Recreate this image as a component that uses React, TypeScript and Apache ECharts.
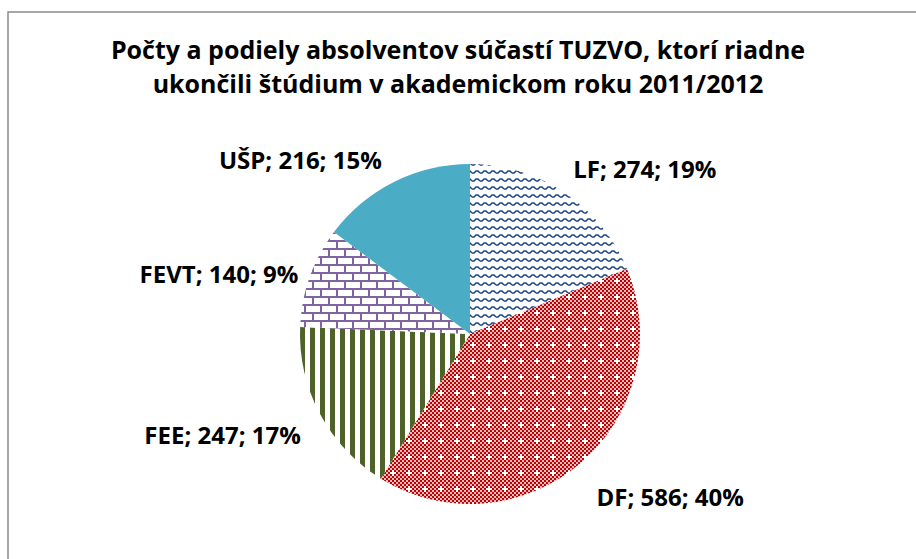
import React, { useEffect, useRef } from "react";
import * as echarts from "echarts";

const titleLines = [
  "Počty a podiely absolventov súčastí TUZVO, ktorí riadne",
  "ukončili štúdium v akademickom roku 2011/2012",
];
const categories = ["LF", "DF", "FEE", "FEVT", "UŠP"];
const values = [274, 586, 247, 140, 216];

const FONT = "'Open Sans', 'Noto Sans', sans-serif";
// label nudges (style only) per slice, in slice order
const labelNudges = [
  [-10, -3],
  [-5, 14],
  [8, 9],
  [17, 5],
  [4, 0],
];

function makeTile(size: number, draw: (c: CanvasRenderingContext2D) => void) {
  const cv = document.createElement("canvas");
  cv.width = size;
  cv.height = size;
  const ctx = cv.getContext("2d")!;
  ctx.fillStyle = "#ffffff";
  ctx.fillRect(0, 0, size, size);
  draw(ctx);
  return { image: cv.toDataURL(), repeat: "repeat", imageWidth: size, imageHeight: size } as any;
}

function buildPatterns() {
  const waves = makeTile(8, (c) => {
    c.strokeStyle = "#1A4585";
    c.lineWidth = 1.5;
    c.beginPath();
    c.moveTo(0, 5);
    c.lineTo(2, 5);
    c.lineTo(4, 3);
    c.lineTo(6, 3);
    c.lineTo(8, 5);
    c.stroke();
  });
  const checks = makeTile(16, (c) => {
    c.fillStyle = "#C00000";
    for (let i = 0; i < 8; i++) {
      for (let j = 0; j < 8; j++) {
        if ((i + j) % 2 === 0) {
          if (i === 4 && j === 4) continue;
          c.fillRect(i * 2, j * 2, 2, 2);
        } else {
          // slight spill to strengthen the red like the reference
          c.fillStyle = "rgba(192,0,0,0.25)";
          c.fillRect(i * 2, j * 2, 2, 2);
          c.fillStyle = "#C00000";
        }
      }
    }
    c.fillStyle = "#ffffff";
    c.fillRect(8, 6, 2, 6);
    c.fillRect(6, 8, 6, 2);
  });
  const stripes = makeTile(10, (c) => {
    c.fillStyle = "#4F6228";
    c.fillRect(0, 0, 5, 10);
  });
  const bricks = makeTile(16, (c) => {
    c.fillStyle = "#8064A2";
    c.fillRect(0, 0, 16, 2);
    c.fillRect(0, 8, 16, 2);
    c.fillRect(0, 0, 2, 8);
    c.fillRect(8, 8, 2, 8);
  });
  return [waves, checks, stripes, bricks, "#4BACC6"];
}

export default function App() {
  const ref = useRef<HTMLDivElement>(null);
  useEffect(() => {
    document.body.style.margin = "0";
    const chart = echarts.init(ref.current!, null, { renderer: "svg" });
    const fills = buildPatterns();
    chart.setOption({
      animation: false,
      backgroundColor: "#ffffff",
      title: {
        text: titleLines.join("\n"),
        left: "center",
        top: 27,
        textStyle: {
          fontFamily: FONT,
          fontSize: 25,
          fontWeight: "bold",
          color: "#000000",
          lineHeight: 34,
        },
      },
      graphic: [
        {
          type: "rect",
          shape: { x: 8, y: 12, width: 1000, height: 1000 },
          style: { fill: "none", stroke: "#8a8a8a", lineWidth: 1.5 },
          silent: true,
        },
      ],
      series: [
        {
          type: "pie",
          center: [470, 334],
          radius: 170,
          startAngle: 90,
          clockwise: true,
          percentPrecision: 0,
          label: {
            show: true,
            position: "outside",
            formatter: "{b}; {c}; {d}%",
            fontFamily: FONT,
            fontSize: 24,
            fontWeight: "bold",
            color: "#000000",
          },
          labelLine: { show: false, length: 25, length2: 0 },
          labelLayout: (p: any) => ({
            dx: labelNudges[p.dataIndex][0],
            dy: labelNudges[p.dataIndex][1],
          }),
          itemStyle: { borderWidth: 0 },
          emphasis: { disabled: true },
          data: categories.map((name, i) => ({
            name,
            value: values[i],
            itemStyle: { color: fills[i] },
          })),
        },
      ],
    });
    return () => chart.dispose();
  }, []);
  return <div ref={ref} style={{ width: 916, height: 559 }} />;
}
